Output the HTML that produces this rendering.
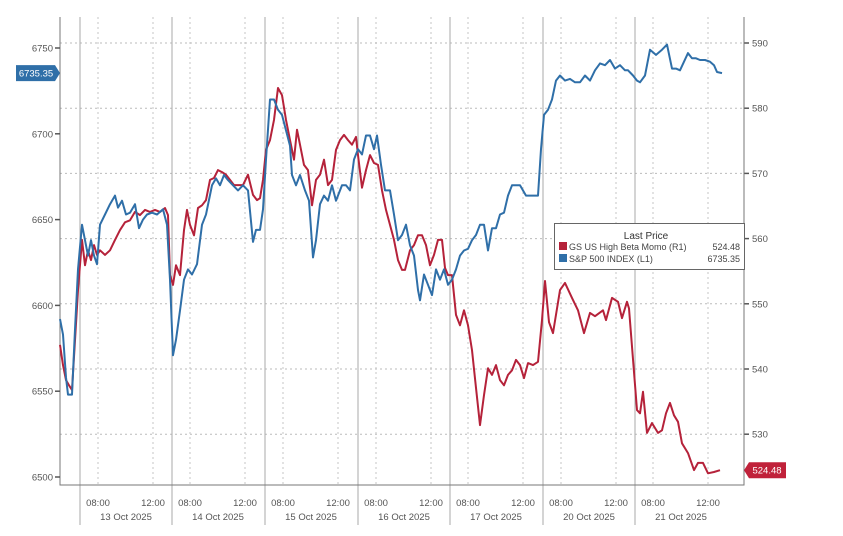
<!DOCTYPE html>
<html><head><meta charset="utf-8"><style>
html,body{margin:0;padding:0;background:#fff;}
svg{display:block;font-family:"Liberation Sans",sans-serif;}
</style></head><body>
<svg id="chart" width="843" height="536" viewBox="0 0 843 536" xmlns="http://www.w3.org/2000/svg"></svg>
<script>
// Data (time in intraday bars from chart start)
const spxBars=[0,3,6,8,12,15,18,22,25,28,31,34,37,40,45,50,55,58,62,66,70,75,79,83,87,92,97,103,107,110,113,116,120,124,128,132,137,142,146,152,156,160,164,168,173,178,183,188,193,196,200,203,206,210,214,218,222,226,230,232,236,240,245,249,253,256,260,264,268,272,276,282,286,290,294,298,302,306,310,314,317,321,325,330,334,338,342,346,350,354,358,360,364,368,372,376,380,384,388,392,396,400,404,408,412,416,420,424,428,432,436,440,444,448,452,456,460,466,474,478,481,484,488,492,496,500,505,510,515,520,525,530,535,540,545,550,555,560,565,568,573,577,580,585,590,596,602,607,612,616,620,624,628,632,636,640,645,650,654,657,662];
const spxValues=[6592,6583,6558,6548,6548,6586,6621,6647,6638,6629,6638,6629,6624,6647,6653,6659,6664,6657,6661,6653,6654,6659,6645,6650,6653,6654,6653,6656,6647,6615,6571,6580,6597,6615,6621,6618,6624,6647,6653,6670,6674,6670,6676,6673,6670,6667,6670,6667,6637,6644,6644,6656,6685,6720,6720,6714,6711,6702,6693,6676,6670,6676,6667,6661,6628,6638,6659,6664,6661,6670,6661,6670,6670,6667,6685,6691,6688,6699,6699,6691,6699,6682,6667,6667,6653,6638,6641,6647,6635,6629,6609,6603,6618,6612,6606,6621,6615,6621,6612,6615,6621,6629,6632,6633,6638,6641,6647,6647,6632,6645,6645,6653,6654,6664,6670,6670,6670,6664,6664,6664,6691,6711,6714,6720,6731,6734,6731,6732,6730,6730,6734,6731,6737,6741,6740,6743,6738,6740,6737,6737,6734,6731,6730,6734,6749,6746,6749,6752,6738,6738,6737,6742,6747,6744,6744,6743,6743,6742,6740,6736,6735.35];
const gsBars=[0,3,6,9,12,15,18,22,25,28,31,34,37,40,45,50,55,60,65,70,75,80,85,90,95,100,105,108,110,113,116,120,124,127,130,134,138,142,146,150,154,158,162,166,170,174,178,183,188,193,197,200,203,206,210,214,218,222,226,230,234,237,240,244,248,252,256,260,264,268,272,276,280,284,288,292,296,298,302,306,310,314,318,322,326,330,334,338,342,345,350,354,358,362,366,370,374,378,382,385,388,392,396,400,404,408,412,416,420,424,428,432,436,440,444,448,452,456,460,464,468,473,478,482,485,489,493,500,505,512,518,524,530,535,543,546,552,558,562,567,569,577,580,583,587,592,598,602,606,610,614,618,622,628,634,638,643,648,654,660];
const gsValues=[543.7,540.6,538.3,537.5,536.8,544.4,552.1,559.8,555.9,558.2,556.7,559.0,557.5,558.2,557.5,558.2,559.8,561.3,562.5,562.8,564.1,563.6,564.4,564.1,564.4,564.1,564.7,563.6,554.4,552.9,555.9,554.4,561.3,564.4,562.1,560.5,564.7,565.1,565.9,569.0,569.3,570.5,570.2,569.8,569.0,568.2,568.2,568.2,569.8,566.7,565.9,566.2,569.0,573.6,575.1,578.2,583.1,582.0,578.2,575.1,572.1,576.7,574.4,571.3,570.5,565.1,569.0,569.8,572.1,568.2,569.0,573.6,575.1,575.9,575.1,574.4,575.6,572.8,567.8,570.5,572.8,571.6,571.3,567.4,564.4,562.1,559.8,556.7,555.2,555.2,558.2,559.0,560.5,560.5,559.0,555.9,557.5,559.8,559.8,555.5,554.4,554.4,548.3,546.7,549.0,546.7,542.9,537.1,531.4,536.0,540.1,539.1,540.6,538.3,537.5,539.1,539.8,541.4,540.6,538.6,540.9,540.6,541.1,547.5,553.5,547.2,545.5,552.1,553.2,550.9,549.0,545.5,548.6,548.1,549.0,547.5,550.9,550.3,547.8,550.3,549.3,533.7,533.2,536.5,530.2,531.7,530.2,530.6,533.2,534.8,532.9,531.9,528.6,527.1,524.5,525.6,525.6,524.0,524.2,524.48];
const leftTicks=[6500,6550,6600,6650,6700,6750];
const rightTicks=[530,540,550,560,570,580,590];
const dayLabels=["13 Oct 2025","14 Oct 2025","15 Oct 2025","16 Oct 2025","17 Oct 2025","20 Oct 2025","21 Oct 2025"];
const dayStartBars=[20,112,205,298,390,483,575];
const timeLabels=["08:00","12:00"];
const timeOffsets=[18,73];
const lastSpx="6735.35", lastGs="524.48";

const NS="http://www.w3.org/2000/svg";
const svg=document.getElementById('chart');
const L=60,R=744,T=17,B=485;
const x=b=>L+b;
const yL=v=>48+(6750-v)*1.716;
const yR=v=>43+(590-v)*6.52;
function el(tag,attrs,parent){const e=document.createElementNS(NS,tag);for(const k in attrs)e.setAttribute(k,attrs[k]);(parent||svg).appendChild(e);return e;}

// horizontal grid (right scale)
rightTicks.forEach(v=>{
  const g=el('line',{x1:L,x2:R,y1:yR(v),y2:yR(v),stroke:'#bbb','stroke-width':1,'stroke-dasharray':'2,3'});
  
  
  const t=el('line',{x1:R,x2:R+5,y1:yR(v),y2:yR(v),stroke:'#555','stroke-width':1.5});
  
  
  const tx=el('text',{x:R+8,y:yR(v)+3.5,'font-size':9.5,fill:'#555'});tx.textContent=v;
  
  
});
// vertical grid + day separators + x labels
dayStartBars.forEach((d,i)=>{
  const s=el('line',{x1:x(d),x2:x(d),y1:T,y2:525,stroke:'#aaa','stroke-width':1});
  
  
  timeOffsets.forEach((o,j)=>{
    const g=el('line',{x1:x(d+o),x2:x(d+o),y1:T,y2:B,stroke:'#c4c4c4','stroke-width':1,'stroke-dasharray':'2,3'});
    
    
    const tl=el('text',{x:x(d+o),y:506,'font-size':9.5,fill:'#555','text-anchor':'middle'});tl.textContent=timeLabels[j];
    
    
  });
  const dl=el('text',{x:x(d+46),y:520,'font-size':9.5,fill:'#555','text-anchor':'middle'});dl.textContent=dayLabels[i];
  
  
});
// axes
const ax=el('path',{d:`M${L},${T}V${B}H${R}V${T}`,fill:'none',stroke:'#777','stroke-width':1});


leftTicks.forEach(v=>{
  const t=el('line',{x1:L-5,x2:L,y1:yL(v),y2:yL(v),stroke:'#555','stroke-width':1.5});
  
  
  const tx=el('text',{x:L-7,y:yL(v)+3.5,'font-size':9.5,fill:'#555','text-anchor':'end'});tx.textContent=v;
  
  
});
// series
function line(bars,vals,ys,color,name){
  const d=bars.map((b,i)=>(i?'L':'M')+x(b).toFixed(1)+','+ys(vals[i]).toFixed(1)).join('');
  const p=el('path',{d,fill:'none',stroke:color,'stroke-width':2,'stroke-linejoin':'round'});
  
  
}
line(gsBars,gsValues,yR,'#b5223a','gs-high-beta-momo-line');
line(spxBars,spxValues,yL,'#2f6fa8','sp500-line');
// last value badges
const ys=yL(spxValues[spxValues.length-1]);
const b1=el('path',{d:`M16,${ys-8}H55L60,${ys}L55,${ys+8}H16Z`,fill:'#2f6fa8'});


const bt1=el('text',{x:36,y:ys+3.5,'font-size':9.5,fill:'#fff','text-anchor':'middle'});bt1.textContent=lastSpx;


const yg=yR(gsValues[gsValues.length-1]);
const b2=el('path',{d:`M744,${yg}L749,${yg-8}H786V${yg+8}H749Z`,fill:'#c0213a'});


const bt2=el('text',{x:767,y:yg+3.5,'font-size':9.5,fill:'#fff','text-anchor':'middle'});bt2.textContent=lastGs;


</script>
<svg style="position:absolute;left:554px;top:223px;font-family:'Liberation Sans',sans-serif" width="191" height="47">
  <rect x="0.5" y="0.5" width="190" height="46" fill="#fff" stroke="#666"/>
  <text x="92" y="16" font-size="10" fill="#333" text-anchor="middle">Last Price</text>
  <rect x="5" y="19" width="8" height="8" fill="#b5223a"/>
  <text x="15" y="27" font-size="9" fill="#444">GS US High Beta Momo  (R1)</text>
  <text x="186" y="27" font-size="9" fill="#444" text-anchor="end">524.48</text>
  <rect x="5" y="31" width="8" height="8" fill="#2f6fa8"/>
  <text x="15" y="39" font-size="9" fill="#444">S&amp;P 500 INDEX  (L1)</text>
  <text x="186" y="39" font-size="9" fill="#444" text-anchor="end">6735.35</text>
</svg>
</body></html>
